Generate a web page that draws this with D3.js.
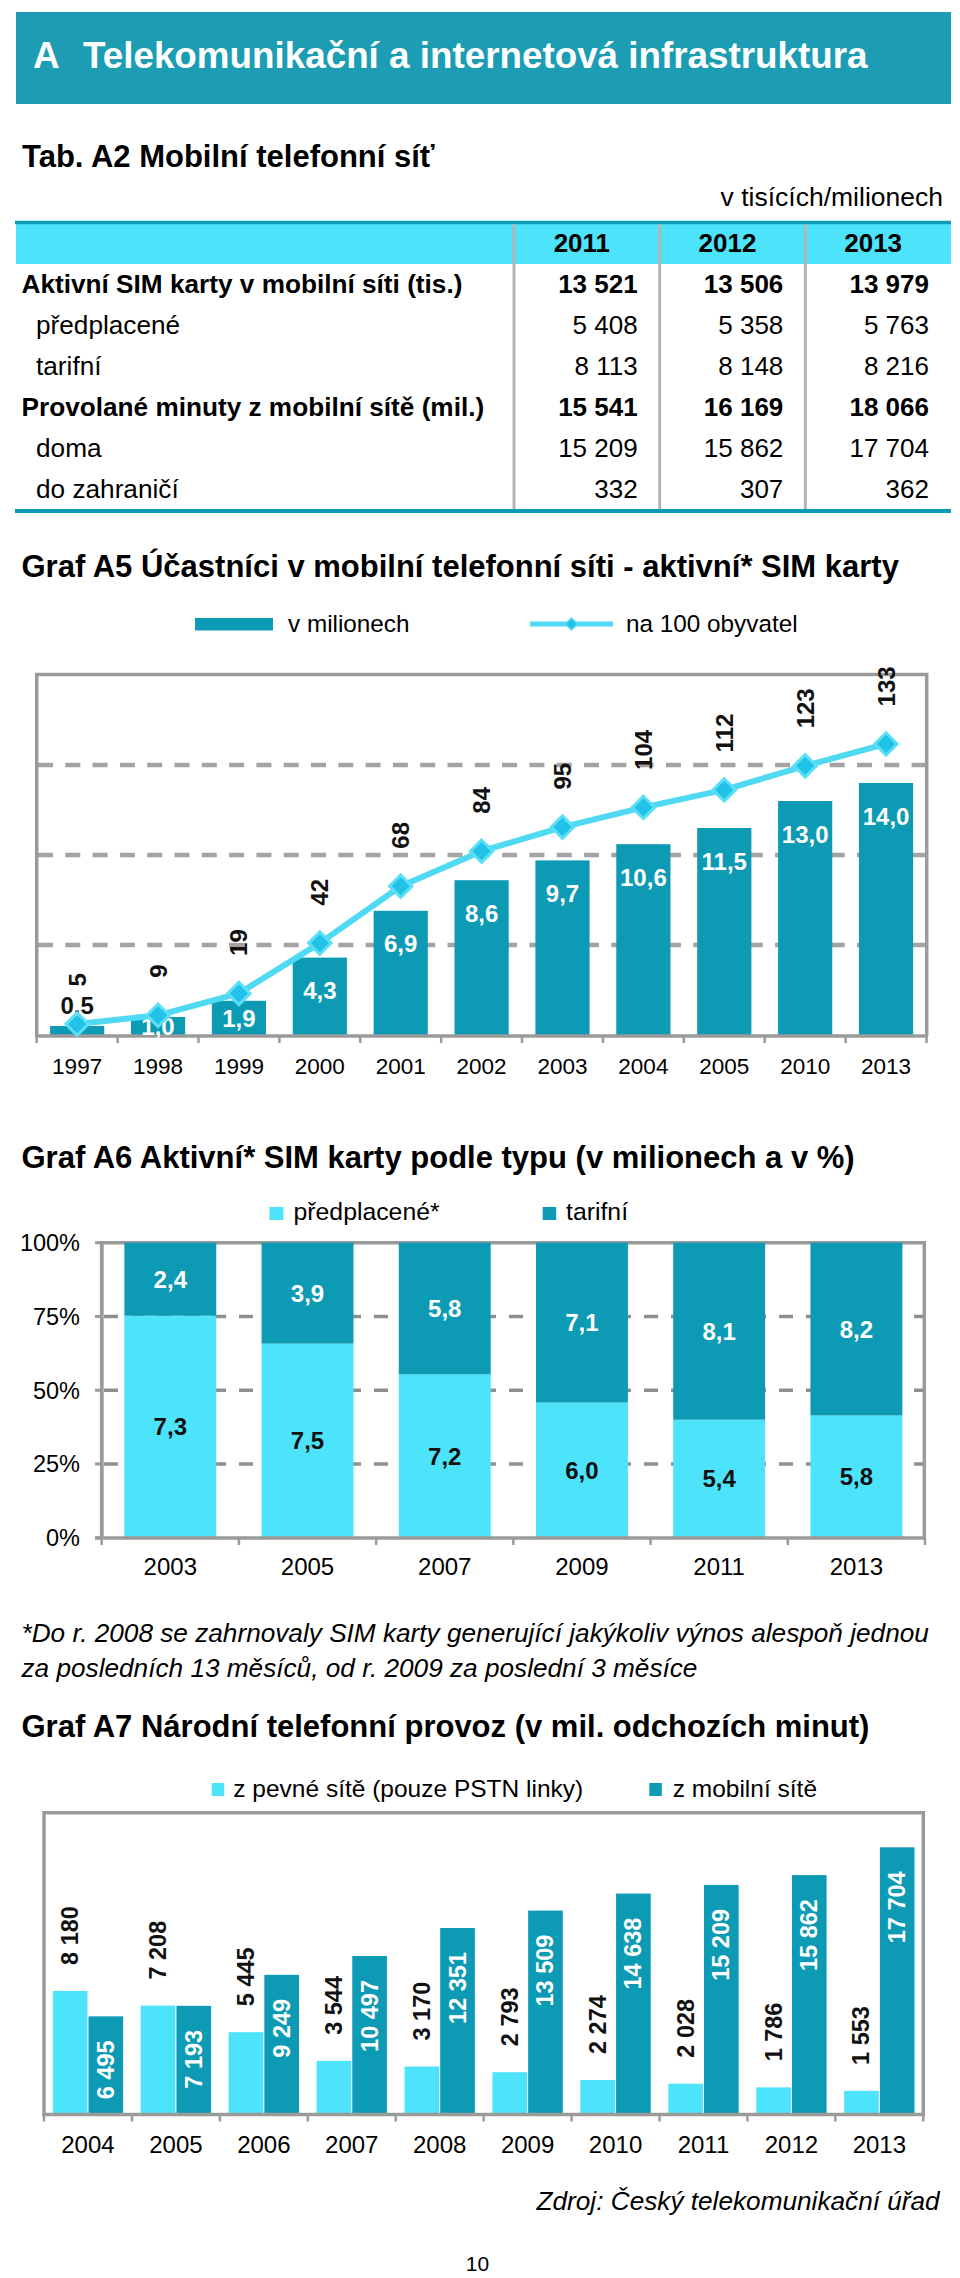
<!DOCTYPE html>
<html><head><meta charset="utf-8">
<script src="https://cdn.jsdelivr.net/npm/d3@7"></script>
<style>
body{margin:0;background:#fff}
svg{display:block}
text{font-family:"Liberation Sans",Arial,Helvetica,sans-serif}
</style>
</head><body>
<svg id="page" width="960" height="2278"></svg>
<script>
// ---------------- DATA ----------------
const pageTitleLetter = "A";
const pageTitle = "Telekomunikační a internetová infrastruktura";

const tableTitle = "Tab. A2 Mobilní telefonní síť";
const tableUnit = "v tisících/milionech";
const tableYears = ["2011", "2012", "2013"];
const tableRows = ["Aktivní SIM karty v mobilní síti (tis.)", "předplacené", "tarifní",
                   "Provolané minuty z mobilní sítě (mil.)", "doma", "do zahraničí"];
const tableRowBold = [true, false, false, true, false, false];
const tableValues = [
  [13521, 13506, 13979],
  [5408, 5358, 5763],
  [8113, 8148, 8216],
  [15541, 16169, 18066],
  [15209, 15862, 17704],
  [332, 307, 362]
];

const a5Title = "Graf A5 Účastníci v mobilní telefonní síti - aktivní* SIM karty";
const a5Legend = ["v milionech", "na 100 obyvatel"];
const a5Years = ["1997", "1998", "1999", "2000", "2001", "2002", "2003", "2004", "2005", "2010", "2013"];
const a5Millions = [0.5, 1.0, 1.9, 4.3, 6.9, 8.6, 9.7, 10.6, 11.5, 13.0, 14.0];
const a5Per100 = [5, 9, 19, 42, 68, 84, 95, 104, 112, 123, 133];
const a5Grid = [5, 10, 15];

const a6Title = "Graf A6 Aktivní* SIM karty podle typu (v milionech a v %)";
const a6Legend = ["předplacené*", "tarifní"];
const a6Years = ["2003", "2005", "2007", "2009", "2011", "2013"];
const a6Prepaid = [7.3, 7.5, 7.2, 6.0, 5.4, 5.8];
const a6Tariff = [2.4, 3.9, 5.8, 7.1, 8.1, 8.2];
const a6Ticks = [0, 0.25, 0.5, 0.75, 1];

const footnote = ["*Do r. 2008 se zahrnovaly SIM karty generující jakýkoliv výnos alespoň jednou",
                  "za posledních 13 měsíců, od r. 2009 za poslední 3 měsíce"];

const a7Title = "Graf A7 Národní telefonní provoz (v mil. odchozích minut)";
const a7Legend = ["z pevné sítě (pouze PSTN linky)", "z mobilní sítě"];
const a7Years = ["2004", "2005", "2006", "2007", "2008", "2009", "2010", "2011", "2012", "2013"];
const a7Fixed = [8180, 7208, 5445, 3544, 3170, 2793, 2274, 2028, 1786, 1553];
const a7Mobile = [6495, 7193, 9249, 10497, 12351, 13509, 14638, 15209, 15862, 17704];

const sourceText = "Zdroj: Český telekomunikační úřad";
const pageNumber = "10";

// ---------------- STYLE ----------------
const TEAL = "#0d9ab4";
const CYAN = "#4ce3fb";
const HEADER = "#1c9db3";
const GRID = "#a3a3a3";
const FRAME = "#9a9a9a";
const LINE = "#4fd9f3";
const TITLE_SIZE = 31;

const cz = d3.formatLocale({decimal: ",", thousands: " ", grouping: [3], currency: ["", ""]});
const fInt = cz.format(",d");
const fDec = cz.format(".1f");

const svg = d3.select("#page");

// ---------------- HEADER ----------------
svg.append("rect").attr("x", 16).attr("y", 12).attr("width", 935).attr("height", 92).attr("fill", HEADER);
svg.append("text").attr("x", 33).attr("y", 68).attr("fill", "#fff").attr("font-weight", "bold")
  .attr("font-size", 36.8).text(pageTitleLetter);
svg.append("text").attr("x", 83).attr("y", 68).attr("fill", "#fff").attr("font-weight", "bold")
  .attr("font-size", 36.8).text(pageTitle);

// ---------------- TABLE ----------------
svg.append("text").attr("x", 22).attr("y", 166.5).attr("font-weight", "bold").attr("font-size", TITLE_SIZE).text(tableTitle);
svg.append("text").attr("x", 943).attr("y", 206).attr("text-anchor", "end").attr("font-size", 26.5).text(tableUnit);

const tCol = d3.scaleBand().domain(tableYears).range([514, 951]);
const tRow = d3.scalePoint().domain(d3.range(tableRows.length)).range([293, 497.5]);

svg.append("rect").attr("x", 16).attr("y", 224).attr("width", 935).attr("height", 40).attr("fill", CYAN);
svg.append("line").attr("x1", 15).attr("x2", 951).attr("y1", 222.5).attr("y2", 222.5)
  .attr("stroke", TEAL).attr("stroke-width", 3.5);
tableYears.forEach(y => {
  svg.append("line").attr("x1", tCol(y)).attr("x2", tCol(y)).attr("y1", 224).attr("y2", 509)
    .attr("stroke", "#b4b4b4").attr("stroke-width", 3);
  svg.append("text").attr("x", tCol(y) + tCol.bandwidth() / 2 - 5).attr("y", 251.5)
    .attr("text-anchor", "middle").attr("font-weight", "bold").attr("font-size", 26).text(y);
});
svg.append("line").attr("x1", 15).attr("x2", 951).attr("y1", 511).attr("y2", 511)
  .attr("stroke", TEAL).attr("stroke-width", 4);

tableRows.forEach((r, i) => {
  svg.append("text").attr("x", tableRowBold[i] ? 21.5 : 36).attr("y", tRow(i))
    .attr("font-weight", tableRowBold[i] ? "bold" : "normal").attr("font-size", 26.2).text(r);
  tableValues[i].forEach((v, j) => {
    svg.append("text").attr("x", tCol(tableYears[j]) + tCol.bandwidth() - 22).attr("y", tRow(i))
      .attr("text-anchor", "end").attr("font-weight", tableRowBold[i] ? "bold" : "normal")
      .attr("font-size", 26).text(fInt(v));
  });
});

// ---------------- GRAF A5 ----------------
svg.append("text").attr("x", 21.5).attr("y", 576.5).attr("font-weight", "bold").attr("font-size", TITLE_SIZE).text(a5Title);

// legend
svg.append("rect").attr("x", 195).attr("y", 618).attr("width", 78).attr("height", 12.5).attr("fill", TEAL);
svg.append("text").attr("x", 288).attr("y", 632).attr("font-size", 24.3).text(a5Legend[0]);
svg.append("line").attr("x1", 530).attr("x2", 613).attr("y1", 624).attr("y2", 624)
  .attr("stroke", LINE).attr("stroke-width", 5);
svg.append("path").attr("d", d3.symbol(d3.symbolDiamond2, 90)()).attr("transform", "translate(571.5,624)")
  .attr("fill", "#22c2e8").attr("stroke", "#55dcf5").attr("stroke-width", 1.5);
svg.append("text").attr("x", 626).attr("y", 632).attr("font-size", 24.3).text(a5Legend[1]);

const a5x = d3.scaleBand().domain(a5Years).range([36.7, 926.5]).paddingInner(0.33).paddingOuter(0.165);
const a5y = d3.scaleLinear().domain([0, 20]).range([1035, 675]);
const a5y2 = d3.scaleLinear().domain([0, 164.5]).range([1035, 675]);
const g5 = svg.append("g");

// grid
a5Grid.forEach(t => {
  g5.append("line").attr("x1", 38).attr("x2", 925).attr("y1", a5y(t)).attr("y2", a5y(t))
    .attr("stroke", GRID).attr("stroke-width", 4.5).attr("stroke-dasharray", "15,12.3");
});
// frame
g5.append("path").attr("d", `M36.7,1036V674.5H926.7V1036`).attr("fill", "none").attr("stroke", FRAME).attr("stroke-width", 3.5);

// bars
g5.selectAll(".b5").data(a5Millions).join("rect")
  .attr("x", (d, i) => a5x(a5Years[i])).attr("width", a5x.bandwidth())
  .attr("y", d => a5y(d)).attr("height", d => a5y(0) - a5y(d)).attr("fill", TEAL);

// axis
g5.append("line").attr("x1", 35).attr("x2", 928).attr("y1", 1036).attr("y2", 1036).attr("stroke", FRAME).attr("stroke-width", 3.5);
d3.range(a5Years.length + 1).forEach(i => {
  const xx = a5x.range()[0] + i * a5x.step();
  g5.append("line").attr("x1", xx).attr("x2", xx).attr("y1", 1036).attr("y2", 1043).attr("stroke", FRAME).attr("stroke-width", 2.5);
});
a5Years.forEach(y => {
  g5.append("text").attr("x", a5x(y) + a5x.bandwidth() / 2).attr("y", 1073.5).attr("text-anchor", "middle")
    .attr("font-size", 22.5).text(y);
});

// bar labels
a5Millions.forEach((d, i) => {
  const cx = a5x(a5Years[i]) + a5x.bandwidth() / 2;
  const top = a5y(d), h = a5y(0) - a5y(d);
  let cy, col = "#fff";
  if (h >= 66) cy = top + 33;
  else if (h >= 15) cy = top + h / 2;
  else { cy = top - 21; col = "#111"; }
  g5.append("text").attr("x", cx).attr("y", cy).attr("dy", "0.36em").attr("text-anchor", "middle")
    .attr("font-weight", "bold").attr("font-size", 24).attr("fill", col).text(fDec(d));
});

// line
const pts = a5Per100.map((d, i) => [a5x(a5Years[i]) + a5x.bandwidth() / 2, a5y2(d)]);
g5.append("path").attr("d", d3.line()(pts)).attr("fill", "none").attr("stroke", LINE).attr("stroke-width", 6)
  .attr("stroke-linejoin", "round");
pts.forEach(p => {
  g5.append("path").attr("d", d3.symbol(d3.symbolDiamond2, 320)()).attr("transform", `translate(${p[0]},${p[1]})`)
    .attr("fill", "#22c2e8").attr("stroke", "#5adff6").attr("stroke-width", 3);
});
a5Per100.forEach((d, i) => {
  const p = pts[i];
  g5.append("text").attr("transform", `translate(${p[0]},${p[1] - 37.5}) rotate(-90)`)
    .attr("dominant-baseline", "central").attr("text-anchor", "start")
    .attr("font-weight", "bold").attr("font-size", 24).attr("fill", "#111").text(d);
});

// ---------------- GRAF A6 ----------------
svg.append("text").attr("x", 21.5).attr("y", 1168.3).attr("font-weight", "bold").attr("font-size", TITLE_SIZE).text(a6Title);
svg.append("rect").attr("x", 269.5).attr("y", 1207).attr("width", 14).attr("height", 13).attr("fill", CYAN);
svg.append("text").attr("x", 293.5).attr("y", 1220).attr("font-size", 24.8).text(a6Legend[0]);
svg.append("rect").attr("x", 542.7).attr("y", 1207).attr("width", 13.5).attr("height", 13).attr("fill", TEAL);
svg.append("text").attr("x", 566).attr("y", 1220).attr("font-size", 24.8).text(a6Legend[1]);

const a6x = d3.scaleBand().domain(a6Years).range([101.7, 925]).paddingInner(0.33).paddingOuter(0.165);
const a6y = d3.scaleLinear().domain([0, 1]).range([1537.7, 1242.7]);
const g6 = svg.append("g");

a6Ticks.filter(t => t > 0 && t < 1).forEach(t => {
  g6.append("line").attr("x1", 104).attr("x2", 923).attr("y1", a6y(t)).attr("y2", a6y(t))
    .attr("stroke", "#8f8f8f").attr("stroke-width", 3.5).attr("stroke-dasharray", "14,13");
});
g6.append("path").attr("d", `M101.7,1537.7V1242.7H924.3V1537.7`).attr("fill", "none").attr("stroke", FRAME).attr("stroke-width", 3.5);

const a6Data = a6Years.map((y, i) => ({year: y, prepaid: a6Prepaid[i], tariff: a6Tariff[i]}));
const stack6 = d3.stack().keys(["prepaid", "tariff"]).offset(d3.stackOffsetExpand)(a6Data);
const colors6 = {prepaid: CYAN, tariff: TEAL};
const labCol6 = {prepaid: "#111", tariff: "#fff"};
stack6.forEach(layer => {
  layer.forEach(seg => {
    g6.append("rect").attr("x", a6x(seg.data.year)).attr("width", a6x.bandwidth())
      .attr("y", a6y(seg[1])).attr("height", a6y(seg[0]) - a6y(seg[1])).attr("fill", colors6[layer.key]);
  });
});
stack6.forEach(layer => {
  layer.forEach(seg => {
    g6.append("text").attr("x", a6x(seg.data.year) + a6x.bandwidth() / 2)
      .attr("y", (a6y(seg[0]) + a6y(seg[1])) / 2).attr("dy", "0.36em").attr("text-anchor", "middle")
      .attr("font-weight", "bold").attr("font-size", 24).attr("fill", labCol6[layer.key])
      .text(fDec(seg.data[layer.key]));
  });
});
// axes
g6.append("line").attr("x1", 95).attr("x2", 926).attr("y1", 1538).attr("y2", 1538).attr("stroke", FRAME).attr("stroke-width", 3.5);
g6.append("line").attr("x1", 101.7).attr("x2", 101.7).attr("y1", 1242.7).attr("y2", 1538).attr("stroke", FRAME).attr("stroke-width", 3.5);
a6Ticks.forEach(t => {
  g6.append("line").attr("x1", 95).attr("x2", 101.7).attr("y1", a6y(t)).attr("y2", a6y(t)).attr("stroke", FRAME).attr("stroke-width", 3);
  g6.append("text").attr("x", 80).attr("y", a6y(t)).attr("dy", "0.36em").attr("text-anchor", "end")
    .attr("font-size", 23.5).text(d3.format(".0%")(t));
});
d3.range(a6Years.length + 1).forEach(i => {
  const xx = a6x.range()[0] + i * a6x.step();
  g6.append("line").attr("x1", xx).attr("x2", xx).attr("y1", 1538).attr("y2", 1545).attr("stroke", FRAME).attr("stroke-width", 2.5);
});
a6Years.forEach(y => {
  g6.append("text").attr("x", a6x(y) + a6x.bandwidth() / 2).attr("y", 1575).attr("text-anchor", "middle")
    .attr("font-size", 24).text(y);
});

// footnote
footnote.forEach((t, i) => {
  svg.append("text").attr("x", 21.5).attr("y", 1641.7 + i * 35.6).attr("font-style", "italic")
    .attr("font-size", 26.2).text(t);
});

// ---------------- GRAF A7 ----------------
svg.append("text").attr("x", 21.5).attr("y", 1736.7).attr("font-weight", "bold").attr("font-size", TITLE_SIZE).text(a7Title);
svg.append("rect").attr("x", 211.7).attr("y", 1783).attr("width", 12.5).attr("height", 13).attr("fill", CYAN);
svg.append("text").attr("x", 233.3).attr("y", 1797).attr("font-size", 24.5).text(a7Legend[0]);
svg.append("rect").attr("x", 649.3).attr("y", 1783).attr("width", 12.5).attr("height", 13).attr("fill", TEAL);
svg.append("text").attr("x", 672.7).attr("y", 1797).attr("font-size", 24.5).text(a7Legend[1]);

const a7x = d3.scaleBand().domain(a7Years).range([44, 923.3]).paddingInner(0.2).paddingOuter(0.1);
const a7x1 = d3.scaleBand().domain(["fixed", "mobile"]).range([0, a7x.bandwidth()]).paddingInner(0.03);
const a7y = d3.scaleLinear().domain([0, 20000]).range([2114.3, 1812.7]);
const g7 = svg.append("g");
g7.append("path").attr("d", `M44,2114.3V1812.7H923.3V2114.3`).attr("fill", "none").attr("stroke", FRAME).attr("stroke-width", 3.5);

const a7Data = a7Years.map((y, i) => ({year: y, fixed: a7Fixed[i], mobile: a7Mobile[i]}));
a7Data.forEach(d => {
  ["fixed", "mobile"].forEach(k => {
    const x0 = a7x(d.year) + a7x1(k);
    const top = a7y(d[k]);
    g7.append("rect").attr("x", x0).attr("width", a7x1.bandwidth()).attr("y", top)
      .attr("height", a7y(0) - top).attr("fill", k === "fixed" ? CYAN : TEAL);
  });
});
a7Data.forEach(d => {
  const cxF = a7x(d.year) + a7x1("fixed") + a7x1.bandwidth() / 2;
  const cxM = a7x(d.year) + a7x1("mobile") + a7x1.bandwidth() / 2;
  g7.append("text").attr("transform", `translate(${cxF},${a7y(d.fixed) - 26}) rotate(-90)`)
    .attr("dominant-baseline", "central").attr("text-anchor", "start")
    .attr("font-weight", "bold").attr("font-size", 23.5).attr("fill", "#111").text(fInt(d.fixed));
  g7.append("text").attr("transform", `translate(${cxM},${a7y(d.mobile) + 24}) rotate(-90)`)
    .attr("dominant-baseline", "central").attr("text-anchor", "end")
    .attr("font-weight", "bold").attr("font-size", 23.5).attr("fill", "#fff").text(fInt(d.mobile));
});
g7.append("line").attr("x1", 42).attr("x2", 925).attr("y1", 2114.5).attr("y2", 2114.5).attr("stroke", FRAME).attr("stroke-width", 3.5);
d3.range(a7Years.length + 1).forEach(i => {
  const xx = a7x.range()[0] + i * a7x.step();
  g7.append("line").attr("x1", xx).attr("x2", xx).attr("y1", 2114.5).attr("y2", 2121.5).attr("stroke", FRAME).attr("stroke-width", 2.5);
});
a7Years.forEach(y => {
  g7.append("text").attr("x", a7x(y) + a7x.bandwidth() / 2).attr("y", 2153).attr("text-anchor", "middle")
    .attr("font-size", 24).text(y);
});

// source & page number
svg.append("text").attr("x", 939.7).attr("y", 2209.5).attr("text-anchor", "end").attr("font-style", "italic")
  .attr("font-size", 26.2).text(sourceText);
svg.append("text").attr("x", 477.5).attr("y", 2271).attr("text-anchor", "middle").attr("font-size", 21).text(pageNumber);
</script>
</body></html>
